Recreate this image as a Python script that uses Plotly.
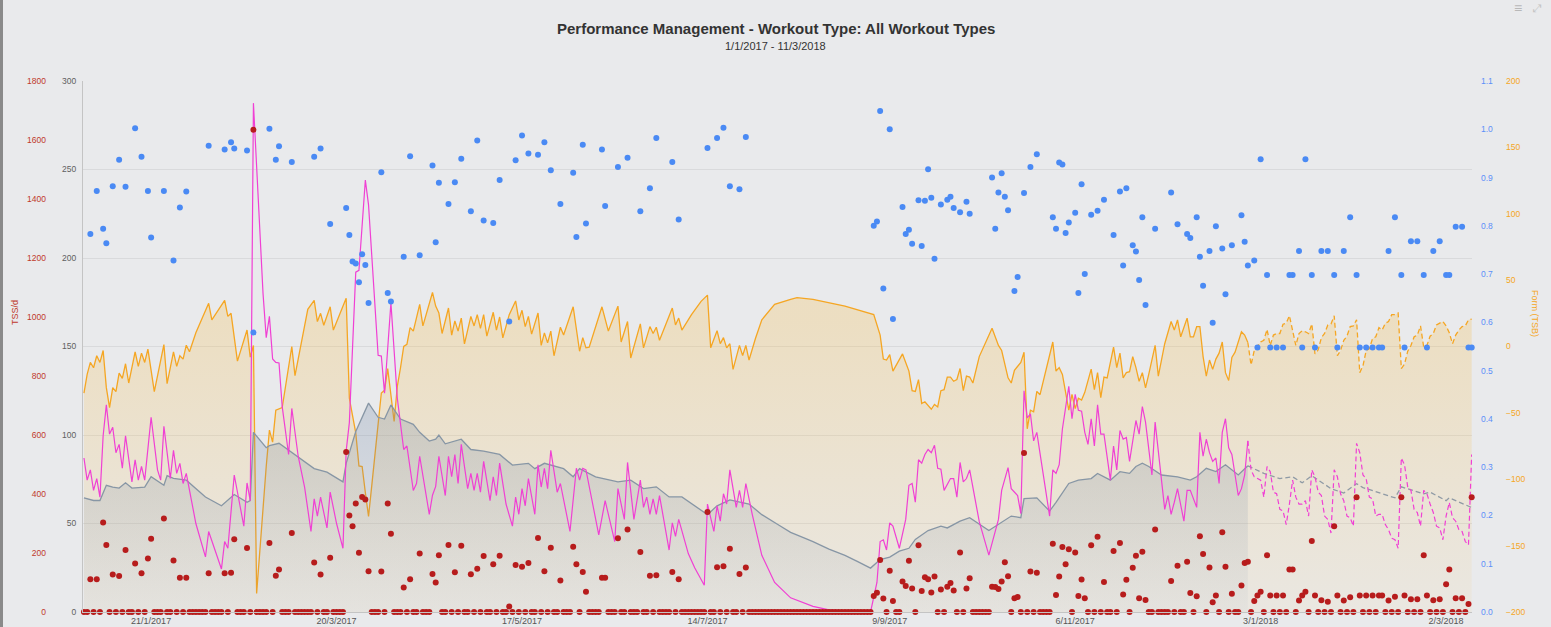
import pandas as pd
import plotly.graph_objects as go

START = pd.Timestamp("2017-01-01")

# ---------------- data (day index from 1/1/2017) ----------------
workout_day = [2, 4, 6, 7, 9, 11, 13, 16, 18, 20, 21, 25, 28, 30, 32, 39, 44, 46, 47, 51,
               53, 58, 60, 61, 65, 72, 74, 77, 82, 83, 84, 85, 86, 87, 88, 89, 93, 95, 96, 100,
               102, 105, 109, 110, 111,
               114, 116, 118, 121, 123, 125, 128, 130, 133, 135, 137, 139, 142, 144, 146, 149, 153, 154, 156, 157,
               162, 163, 167, 170, 174, 177, 179, 184, 186, 195, 198, 200, 202, 205, 207,
               247, 248, 249, 250, 252, 253, 256, 257, 258, 259, 261, 262, 263, 264, 265, 266, 268, 270, 271, 272,
               274, 276, 277, 284, 285, 286, 287, 288, 289, 291, 292, 294, 296, 298, 303, 304, 305, 306, 307, 308,
               310, 311, 312, 313, 315, 317, 319, 322, 324, 325, 326, 328, 329, 330,
               331, 332, 335, 340, 342, 345, 346, 348, 349, 350, 352, 353, 354, 356, 357, 359, 362, 363, 364, 366,
               367, 368, 370, 371, 373, 375, 377, 378, 380, 381, 382, 384, 385, 387, 389, 391, 392, 394, 396, 398,
               399, 401, 403, 405, 406, 408, 410, 412, 413, 415, 417, 419, 420, 422, 424, 426, 427, 429, 431, 433,
               434]

workout_tss = [111, 111, 303, 227, 127, 122, 210, 164, 131, 181, 248, 317, 175, 116, 116, 131, 131, 133, 247, 217,
               1635, 234, 123, 144, 268, 168, 127, 184, 542, 327, 291, 368, 201, 390, 381, 138, 137, 368, 265, 83,
               111, 198, 129, 100, 192,
               227, 135, 225, 128, 147, 190, 162, 191, 19, 159, 153, 166, 251, 138, 218, 107, 221, 162, 136, 69,
               116, 116, 250, 280, 203, 123, 125, 136, 111, 339, 152, 155, 214, 129, 151,
               54, 65, 176, 46, 140, 37, 103, 88, 174, 80, 226, 71, 118, 111, 66, 120, 76, 86, 98, 73,
               202, 80, 114, 86, 85, 78, 103, 169, 121, 47, 51, 539, 137, 133, 231, 58, 120, 220, 162, 213,
               202, 54, 110, 47, 226, 255, 102, 207, 234, 59, 109, 150, 191, 47,
               204, 41, 280, 105, 157, 170, 64, 53, 257, 197, 151, 33, 56, 270, 153, 62, 90, 166, 170, 37,
               56, 69, 192, 56, 56, 56, 144, 144, 39, 56, 69, 241, 56, 40, 35, 291, 56, 39, 50, 389,
               56, 56, 56, 56, 56, 39, 52, 389, 56, 43, 43, 192, 56, 40, 43, 94, 144, 47, 47, 27,
               389]

workout_if = [.783, .872, .794, .764, .882, .937, .881, 1.002, .943, .872, .776, .872, .728, .838, .871, .966, .958, .973, .960, .956,
              .579, 1.001, .937, .965, .932, .943, .960, .804, .837, .781, .726, .722, .683, .741, .719, .640, .911, .661, .643, .736,
              .944, .739, .925, .766, .889,
              .845, .890, .939, .830, .977, .811, .806, .895, .602, .936, .987, .950, .947, .973, .915, .845, .910, .777, .968, .805,
              .958, .841, .922, .941, .830, .878, .982, .932, .813, .961, .982, 1.003, .882, .876, .984,
              .800, .809, 1.038, .670, 1.000, .607, .839, .783, .792, .763, .853, .758, .852, .917, .858, .732, .844, .854, .860, .837,
              .828, .850, .825, .900, .794, .869, .909, .860, .832, .665, .694, .868, .922, .948, .818, .794, .931, .927, .785, .807,
              .827, .661, .886, .700, .823, .831, .854, .781, .871, .718, .878, .760, .747, .688,
              .818, .636, .794, .869, .803, .783, .775, .818, .736, .676, .748, .599, .799, .753, .658, .760, .822, .767, .718, .728,
              .548, .938, .698, .548, .548, .548, .698, .698, .748, .548, .938, .698, .548, .748, .748, .698, .548, .748, .818, .698,
              .548, .548, .548, .548, .548, .748, .818, .698, .548, .768, .768, .698, .548, .748, .768, .698, .698, .798, .798, .548,
              .548]

LAST_DAY = 434   # 11/3/2018

# Fitness (CTL) - actual
ctl_actual = [(0, 64.5), (3, 63), (5, 63), (7, 71.6), (9, 70.6), (11, 70), (13, 73), (15, 70), (19, 70.6), (21, 76.4),
              (25, 71.6), (26, 77), (28, 75.5), (30, 75), (32, 74.5), (38, 65), (43, 60), (47, 66.4), (51, 62), (52, 63),
              (53, 101.5), (57, 92.8), (58, 94), (61, 95.3), (65, 90), (72, 81), (76, 79), (81, 73.5), (82, 84), (85, 102),
              (89, 118), (92, 110), (94, 109), (96, 117), (99, 109), (103, 106), (105, 101.5), (108, 96.6), (110, 97.6), (111, 100),
              (113, 95), (118, 97.6), (121, 91.8), (125, 90.9), (130, 89), (134, 83), (139, 84), (141, 81), (144, 84), (150, 81),
              (153, 76.4), (155, 81), (160, 76.4), (167, 73.5), (171, 74.5), (175, 69.7), (179, 70.7), (183, 65), (187, 65), (195, 55),
              (198, 60), (202, 63.3), (208, 61), (212, 55), (217, 49.4), (221, 45), (225, 42), (228, 39.8), (233, 35.5), (238, 32),
              (242, 28.5), (246, 24.8), (249, 29.6), (252, 31), (255, 34.4), (258, 36), (260, 41), (264, 46), (268, 48.5), (270, 47.5),
              (274, 51.3), (277, 53.3), (283, 46), (290, 54.2), (293, 53.3), (294, 64), (298, 64.5), (302, 57), (304, 62), (308, 72.6),
              (311, 74.5), (315, 75.4), (317, 78.3), (321, 74.5), (324, 79.3), (327, 78.3), (329, 82.2), (331, 84.1), (333, 82.2), (337, 77.4),
              (342, 76.4), (346, 74.5), (348, 76.4), (351, 81.2), (354, 79.3), (357, 83.2), (361, 77.4), (364, 82.6)]

# Fitness (CTL) - planned
ctl_planned = [(364, 82.6), (369, 78.3), (374, 75.4), (378, 76.4), (381, 73), (384, 77), (390, 69.7), (394, 67.2), (398, 72.5),
               (400, 70.3), (406, 66.8), (410, 64.5), (412, 70.7), (419, 66.8), (421, 67.7), (426, 62.9), (427, 64.5), (434, 59)]

# Fatigue (ATL) - actual
atl_actual = [(0, 87), (1, 74.5), (2, 80.3), (3, 68.7), (4, 75.4), (5, 64.9), (6, 99.6), (7, 117), (8, 100.5), (9, 104.4),
              (10, 90), (11, 94.7), (12, 81.2), (13, 99.6), (15, 73.5), (16, 86), (17, 74.5), (18, 82.2), (19, 74.5), (21, 110),
              (23, 80.3), (24, 74.5), (25, 104.9), (27, 75.4), (28, 91.4), (29, 78.3), (30, 84), (31, 72.6), (32, 78.3), (35, 50),
              (38, 31.1), (39, 45.5), (43, 24.3), (44, 39.8), (45, 36), (47, 77.4), (50, 48.5), (51, 72.9), (52, 62.9), (53, 287.5),
              (56, 180), (57, 155), (58, 167), (59, 143), (60, 141), (61, 140.7), (62, 116), (64, 89), (65, 115), (67, 88),
              (69, 70.6), (71, 45.5), (72, 63.9), (73, 54.2), (74, 64.9), (76, 47.5), (77, 67.7), (79, 50), (81, 36), (82, 90.9),
              (83, 107), (85, 192), (86, 193), (87, 221), (88, 244), (89, 230), (92, 145), (93, 144.6), (94, 123.6), (96, 174.7),
              (98, 120.7), (100, 91.8), (101, 93.8), (103, 68.7), (104, 72.6), (105, 88), (108, 55.2), (109, 66), (110, 71), (111, 88),
              (113, 65.8), (114, 88), (115, 76.4), (116, 89), (117, 72.6), (118, 94.7), (120, 69.7), (121, 78.3), (122, 68.7), (123, 78.3),
              (124, 67.7), (125, 85.1), (127, 62.9), (128, 76.4), (129, 65.8), (130, 84.1), (132, 61), (134, 48.5), (135, 64.9), (136, 55.2),
              (137, 69.7), (138, 60), (139, 75.4), (141, 55.2), (142, 83.2), (143, 70.6), (144, 81.2), (145, 69.7), (146, 91.4), (148, 67.7),
              (149, 72.6), (152, 45.5), (154, 81.2), (155, 74.5), (156, 81.2), (157, 80.3), (161, 43.6), (163, 62.9), (166, 39.8), (167, 69.7),
              (169, 52.3), (170, 84.5), (172, 52.3), (174, 74.5), (175, 59.1), (176, 64.9), (177, 55.2), (178, 63.9), (179, 55.2), (180, 65.8),
              (183, 35), (184, 50.4), (185, 42.7), (186, 52.3), (189, 33), (191, 25), (194, 15.1), (195, 61), (197, 45.5), (198, 60),
              (199, 51.3), (200, 66.8), (201, 61), (202, 80.3), (204, 59.1), (205, 68.7), (206, 59.1), (207, 72.6), (209, 55.2), (212, 32),
              (216, 16.7), (221, 8), (228, 3.2), (233, 1.2), (240, 0.3), (246, 0), (247, 9), (248, 16.7), (249, 39.8), (250, 40.8),
              (251, 35), (252, 50.4), (253, 48.5), (255, 36), (257, 52.3), (258, 71.6), (259, 72.6), (260, 62), (261, 86), (262, 84.1),
              (263, 89), (264, 91.8), (265, 90), (266, 94.2), (267, 81.2), (268, 80.7), (269, 68.7), (271, 75.4), (272, 75.4), (273, 64.9),
              (274, 84.5), (275, 73.5), (276, 75.4), (277, 80.3), (280, 51), (283, 32.1), (286, 52.3), (287, 68.7), (289, 81.6), (290, 69.7),
              (292, 65.8), (293, 55.6), (294, 125), (295, 109.6), (296, 112), (297, 96.7), (298, 101.5), (302, 54.2), (303, 80.3), (304, 78.3),
              (305, 83.2), (306, 103.4), (308, 127.5), (309, 109.2), (310, 123), (311, 114), (312, 113.4), (313, 101.5), (314, 94.7), (315, 109.2),
              (316, 93.8), (317, 117), (318, 100.5), (319, 100.5), (321, 74.5), (322, 93.8), (323, 80.3), (324, 102.5), (325, 97.6), (326, 98.6),
              (327, 85.1), (329, 108.2), (330, 100.5), (331, 116), (332, 107.3), (334, 77.4), (335, 107.3), (338, 58), (339, 65.8), (340, 55.2),
              (341, 62), (342, 69.7), (344, 51.3), (345, 68.7), (346, 68.7), (348, 59.1), (349, 101.5), (350, 88), (351, 97.6), (352, 90),
              (353, 85.1), (354, 87), (355, 72.6), (356, 101.5), (357, 109.2), (358, 92.8), (359, 89), (361, 65.8), (362, 69.7), (363, 77.4),
              (364, 96.7)]

# Fatigue (ATL) - planned
atl_planned = [(364, 96.7), (365, 80.3), (366, 76.4), (367, 75.4), (368, 74.5), (369, 64.9), (370, 82.2), (371, 79.3), (372, 67.7),
               (373, 66.8), (374, 58), (375, 57.1), (376, 49.4), (377, 61), (378, 74.5), (379, 64.9), (380, 61), (381, 61), (382, 62.9),
               (383, 54.2), (384, 80.3), (385, 76.4), (386, 67.7), (387, 65.8), (388, 54.2), (389, 52.3), (390, 44.6), (391, 80.3),
               (392, 76.4), (393, 66.8), (394, 62.9), (395, 54.2), (396, 53.3), (397, 48.5), (398, 95.3), (399, 90), (400, 77.4),
               (401, 75.4), (402, 64.9), (403, 63.9), (404, 54.2), (405, 55.2), (406, 55.2), (407, 49.4), (408, 46.5), (409, 41.7),
               (410, 40.8), (411, 36), (412, 87), (413, 83.2), (414, 70.6), (415, 68.7), (416, 58), (417, 56.2), (418, 48.5),
               (419, 68.7), (420, 66.8), (421, 61), (422, 56.2), (423, 48.5), (424, 47.5), (425, 40.8), (426, 54.2), (427, 61.9),
               (428, 53.3), (429, 51.3), (430, 46.5), (431, 45.5), (432, 39.8), (433, 37.9), (434, 89)]

# Form (TSB) - actual
tsb_actual = [(0, -35.2), (1, -21), (2, -12), (3, -16), (4, -7), (5, -12), (6, -3), (7, -31), (8, -46), (9, -31),
              (10, -34), (11, -20), (12, -24), (13, -13), (14, -27.5), (16, -4), (17, -15), (18, -5), (19, -12), (20, -2),
              (22, -34), (25, 1.5), (26, -28), (28, -4), (29, -15), (30, -7), (31, -9.5), (32, 1), (33, -4), (35, 10.3),
              (39, 32.5), (40, 20), (44, 34.8), (45, 22.7), (46, 25), (48, -11), (51, 12.4), (52, -8), (53, 0.8), (54, -186),
              (57, -90.4), (58, -63), (59, -72), (60, -48), (62, -46), (63, -31), (65, 0), (66, -22), (70, 28), (72, 34.8),
              (73, 18.8), (74, 25), (75, 16), (77, 29.9), (78, 12.4), (82, 36.3), (83, -39), (84, -52), (85, -65), (86, -90),
              (87, -90.4), (88, -110), (89, -128), (90, -105), (92, -61), (93, -35), (94, -33), (95, -16.7), (97, -56.5), (98, -30),
              (99, -16), (100, 0), (101, 1.6), (102, 14.2), (103, 11.6), (105, 31.7), (106, 15.5), (109, 40.7), (110, 30.4), (111, 25.2),
              (112, 9.8), (114, 29), (115, 8.5), (116, 19.3), (117, 11.6), (118, 21.4), (119, 2), (121, 22.7), (122, 15.5), (123, 24),
              (124, 13.7), (125, 24), (126, 7.8), (128, 25.8), (129, 12.4), (130, 22.2), (131, 6.5), (133, 24), (135, 34.3), (136, 20),
              (137, 27.3), (138, 15), (139, 22.7), (140, 9.3), (142, 25.2), (143, 0.8), (144, 10.3), (145, 2.7), (146, 11.6), (147, -7),
              (149, 14.5), (150, 8.6), (153, 29.9), (155, -3.6), (156, 6.7), (157, -1), (158, -0.5), (162, 29.9), (164, 11.6), (167, 30.4),
              (168, 3.4), (170, 18.8), (171, -8.7), (174, 17), (175, -1), (177, 15), (178, 9.8), (179, 14.5), (180, 4.7), (184, 29),
              (185, 16.2), (186, 21.4), (187, 12.4), (190, 24), (193, 34), (195, 38.7), (196, -1), (198, 11.9), (199, 2.1), (200, 6.7),
              (201, -1), (202, 2.1), (203, -17.2), (205, 0.8), (206, -6.9), (207, 0.8), (208, -10.2), (210, 6), (212, 20.1), (216, 31.7),
              (221, 35.5), (223, 36.8), (228, 35.5), (233, 33), (238, 30.4), (247, 24), (249, 8.6), (250, -9.5), (251, -10.2), (252, -6.1),
              (253, -18.5), (256, -5.6), (258, -18.5), (259, -33.3), (260, -33.8), (261, -24.9), (262, -42.9), (263, -41.6), (265, -47.3), (266, -43.7),
              (267, -45.5), (268, -33.3), (269, -32.5), (270, -23), (271, -23), (272, -26.2), (273, -24.9), (274, -16.6), (275, -33.3), (276, -22.3),
              (277, -23), (278, -27.5), (280, -7.6), (284, 13.7), (286, 0.8), (287, -3), (289, -23.6), (290, -27.5), (291, -17.9), (293, -12),
              (294, -4.3), (295, -62), (296, -48), (297, -49.2), (298, -33.8), (299, -36.3), (303, 3.4), (304, -18.5), (305, -15.9), (306, -21),
              (307, -36.3), (308, -48), (309, -36), (310, -46.7), (311, -39), (312, -40.3), (313, -34.5), (315, -17), (316, -32.5), (317, -19.7),
              (318, -38.5), (319, -23), (320, -23.6), (322, -0.4), (323, -15.9), (324, -5), (325, -23.6), (326, -19.7), (327, -19), (328, -7.6),
              (329, -15.9), (330, -26.2), (331, -19.7), (332, -31.2), (333, -21), (334, -10.8), (335, 0.8), (336, -22.3), (338, 2.1), (340, 18.8),
              (341, 12.4), (342, 20.1), (343, 7.3), (345, 21.4), (346, 7.3), (347, 7.3), (348, 15), (349, 15), (350, -7.6), (351, -22.3),
              (352, -10.2), (353, -17.2), (354, -9.5), (355, -5), (356, 3.4), (357, -19.7), (358, -25.6), (359, -8.2), (360, -4.3), (362, 11.1),
              (363, 8.6), (364, 3)]

# Form (TSB) - planned
tsb_planned = [(364, 3), (365, -13.9), (366, -3), (368, 3.4), (369, 4.7), (370, 12.9), (371, 0.8), (372, 8.6), (373, 9.8), (374, 9.8),
               (375, 16.8), (376, 17.6), (377, 23.2), (378, 11.1), (379, 0.8), (380, 9.8), (381, 11.9), (382, 11.1), (383, 9.8), (384, 17),
               (385, -5.6), (386, -2.5), (387, 6.7), (388, 9.8), (389, 16.2), (390, 17), (391, 23.2), (392, -6.9), (393, -3), (394, 4.7),
               (395, 7.8), (396, 15), (397, 15.5), (398, 20.1), (399, -19.7), (400, -14.6), (401, -3), (402, -1.7), (403, 6), (404, 7.3),
               (405, 14.2), (406, 12.4), (407, 17.6), (408, 18.8), (409, 24), (410, 24), (411, 25.2), (412, -16.6), (413, -13.3), (414, -3.6),
               (415, 0.8), (416, 7.3), (417, 8.6), (418, 15.5), (419, -0.5), (420, 0.8), (421, 7.8), (422, 9.8), (423, 16.2), (424, 17.6),
               (425, 18.8), (426, 15.5), (427, 10.3), (428, 2.1), (429, 8.6), (430, 12.4), (431, 15), (432, 15.5), (433, 20.1), (434, 20.6)]

tick_day = [21, 79, 137, 195, 252, 310, 368, 426]
tick_text = ["21/1/2017", "20/3/2017", "17/5/2017", "14/7/2017", "9/9/2017", "6/11/2017", "3/1/2018", "2/3/2018"]

tss_ticks = list(range(0, 1801, 200))
fit_ticks = list(range(0, 301, 50))
if_ticks = [i / 10 for i in range(0, 12)]
tsb_ticks = list(range(-200, 201, 50))

# ---------------- helpers ----------------
def to_dates(days):
    return [START + pd.Timedelta(days=d) for d in days]

def unzip(pairs):
    return [p[0] for p in pairs], [p[1] for p in pairs]

# ---------------- layout geometry ----------------
W, H = 1551, 627
ML, MR, MT, MB = 10, 10, 81, 15
PW = W - ML - MR
PH = H - MT - MB
def px_x(px):
    return (px - ML) / PW
def px_y(py):
    return (H - MB - py) / PH

FONT = "Liberation Sans, Arial, sans-serif"
RED = "#b71c1c"
BLUE = "#4a8af4"
ORANGE = "#f5a623"
PINK = "#f040d4"
SLATE = "#8796a5"
BG = "#e9eaec"

fig = go.Figure()

# ---- Form (TSB) area + lines on base axis 'y' ----
tsb_all = tsb_actual + tsb_planned[1:]
d_all, v_all = unzip(tsb_all)
fig.add_trace(go.Scatter(x=to_dates(d_all), y=[tsb_ticks[0]] * len(d_all), mode="lines",
                         line=dict(width=0), hoverinfo="skip", yaxis="y"))
fig.add_trace(go.Scatter(x=to_dates(d_all), y=v_all, mode="lines", line=dict(width=0),
                         fill="tonexty",
                         fillgradient=dict(type="vertical", start=-200, stop=20,
                                           colorscale=[[0, "rgba(245,190,80,0.07)"],
                                                       [1, "rgba(245,190,80,0.27)"]]),
                         hoverinfo="skip", yaxis="y"))
d, v = unzip(tsb_actual)
fig.add_trace(go.Scatter(x=to_dates(d), y=v, mode="lines", line=dict(color=ORANGE, width=1.3),
                         name="Form (TSB)", yaxis="y"))
d, v = unzip(tsb_planned)
fig.add_trace(go.Scatter(x=to_dates(d), y=v, mode="lines",
                         line=dict(color=ORANGE, width=1.3, dash="5px,3px"),
                         name="Form (TSB) planned", yaxis="y"))

# ---- Fitness (CTL) / Fatigue (ATL) on 'y2' ----
d, v = unzip(ctl_actual)
fig.add_trace(go.Scatter(x=to_dates(d), y=v, mode="lines", line=dict(color=SLATE, width=1.3),
                         fill="tozeroy",
                         fillgradient=dict(type="vertical", start=0, stop=120,
                                           colorscale=[[0, "rgba(105,128,160,0.04)"],
                                                       [1, "rgba(105,128,160,0.26)"]]),
                         name="Fitness (CTL)", yaxis="y2"))
d, v = unzip(ctl_planned)
fig.add_trace(go.Scatter(x=to_dates(d), y=v, mode="lines",
                         line=dict(color="#8f9aa5", width=1.3, dash="5px,3px"),
                         name="Fitness (CTL) planned", yaxis="y2"))
d, v = unzip(atl_actual)
fig.add_trace(go.Scatter(x=to_dates(d), y=v, mode="lines", line=dict(color=PINK, width=1.2),
                         name="Fatigue (ATL)", yaxis="y2"))
d, v = unzip(atl_planned)
fig.add_trace(go.Scatter(x=to_dates(d), y=v, mode="lines",
                         line=dict(color=PINK, width=1.2, dash="5px,3px"),
                         name="Fatigue (ATL) planned", yaxis="y2"))

# ---- TSS/d dots on 'y3' ----
tss_lookup = dict(zip(workout_day, workout_tss))
all_days = list(range(0, LAST_DAY + 1))
tss_daily = [tss_lookup.get(dd, 0) for dd in all_days]
fig.add_trace(go.Scatter(x=to_dates(all_days), y=tss_daily, mode="markers",
                         marker=dict(size=6, color=RED), cliponaxis=False,
                         name="TSS/d", yaxis="y3"))

# ---- IF dots on 'y4' ----
fig.add_trace(go.Scatter(x=to_dates(workout_day), y=workout_if, mode="markers",
                         marker=dict(size=6, color=BLUE), cliponaxis=False,
                         name="IF", yaxis="y4"))

x0 = px_x(83)
x1 = px_x(1472)
tick_font = lambda c: dict(family=FONT, size=8.5, color=c)

fig.update_layout(
    width=W, height=H,
    margin=dict(l=ML, r=MR, t=MT, b=MB, autoexpand=False),
    paper_bgcolor=BG, plot_bgcolor=BG,
    showlegend=False,
    font=dict(family=FONT),
    xaxis=dict(domain=[x0, x1], type="date", automargin=False,
               range=[START + pd.Timedelta(days=-0.3), START + pd.Timedelta(days=LAST_DAY + 0.1)],
               tickvals=to_dates(tick_day), ticktext=tick_text,
               tickfont=dict(family=FONT, size=9, color="#555555"),
               showgrid=False, zeroline=False, showline=True, linecolor="#c4c4c4",
               ticks="", ticklabelstandoff=0, anchor="y"),
    yaxis=dict(range=[-200, 200], side="right", anchor="free", position=px_x(1505),
               automargin=False,
               tickvals=tsb_ticks, tickfont=tick_font(ORANGE),
               showgrid=False, zeroline=False, showline=False, ticks=""),
    yaxis2=dict(range=[0, 300], overlaying="y", side="left", anchor="x", automargin=False,
                tickvals=fit_ticks, tickfont=tick_font("#606060"),
                showgrid=True, gridcolor="#d9dadc", gridwidth=1,
                zeroline=False, showline=True, linecolor="#c4c4c4", ticks="",
                ticklabelstandoff=4),
    yaxis3=dict(range=[0, 1800], overlaying="y", side="left", anchor="free", position=px_x(46),
                automargin=False,
                tickvals=tss_ticks, tickfont=tick_font("#c0392b"),
                showgrid=False, zeroline=False, showline=False, ticks=""),
    yaxis4=dict(range=[0, 1.1], overlaying="y", side="right", anchor="x", automargin=False,
                tickvals=if_ticks, tickformat=".1f", tickfont=tick_font("#5b8ff9"),
                showgrid=False, zeroline=False, showline=False, ticks="",
                ticklabelstandoff=8),
)

fig.add_annotation(text="<b>Performance Management - Workout Type: All Workout Types</b>",
                   x=0.5, y=px_y(28), xref="paper", yref="paper", showarrow=False,
                   xanchor="center", yanchor="middle",
                   font=dict(family=FONT, size=15, color="#333333"))
fig.add_annotation(text="1/1/2017 - 11/3/2018",
                   x=0.5, y=px_y(46), xref="paper", yref="paper", showarrow=False,
                   xanchor="center", yanchor="middle",
                   font=dict(family=FONT, size=11, color="#333333"))
fig.add_annotation(text="TSS/d", x=px_x(15), y=px_y(313), xref="paper", yref="paper",
                   showarrow=False, textangle=-90, xanchor="center", yanchor="middle",
                   font=dict(family=FONT, size=9, color="#c0392b"))
fig.add_annotation(text="Form (TSB)", x=px_x(1535), y=px_y(313), xref="paper", yref="paper",
                   showarrow=False, textangle=90, xanchor="center", yanchor="middle",
                   font=dict(family=FONT, size=9, color=ORANGE))
fig.add_annotation(text="≡", x=px_x(1518), y=px_y(8), xref="paper", yref="paper",
                   showarrow=False, xanchor="center", yanchor="middle",
                   font=dict(family=FONT, size=14, color="#b8b8b8"))
fig.add_annotation(text="⤢", x=px_x(1537), y=px_y(8), xref="paper", yref="paper",
                   showarrow=False, xanchor="center", yanchor="middle",
                   font=dict(family=FONT, size=11, color="#c4c4c4"))

fig.add_shape(type="rect", xref="paper", yref="paper",
              x0=px_x(0), x1=px_x(3), y0=px_y(H), y1=px_y(0),
              fillcolor="#8a8a8a", line=dict(width=0), layer="above")

fig.write_html("out.html", config={"displayModeBar": False},
               post_script="document.body.style.margin='0px';document.body.style.overflow='hidden';")
